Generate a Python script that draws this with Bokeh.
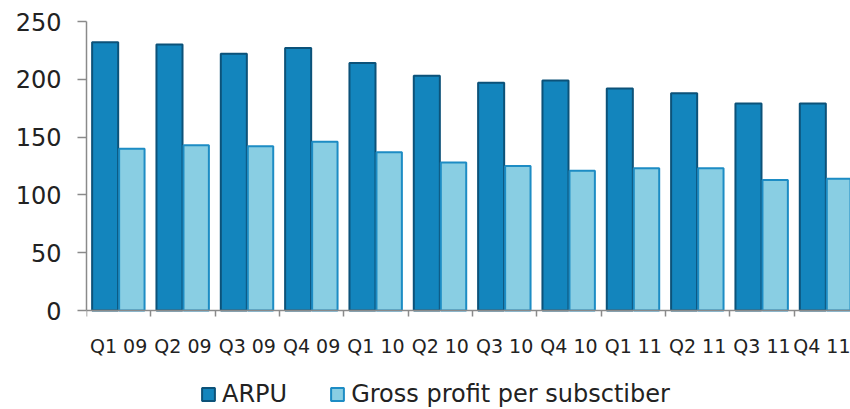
from bokeh.plotting import figure
from bokeh.models import Range1d, FixedTicker, Legend, LegendItem, ColumnDataSource
from bokeh.transform import dodge
from bokeh.embed import file_html
from bokeh.resources import INLINE

quarters = ["Q1 09", "Q2 09", "Q3 09", "Q4 09", "Q1 10", "Q2 10",
            "Q3 10", "Q4 10", "Q1 11", "Q2 11", "Q3 11", "Q4 11"]
arpu = [232, 230, 222, 227, 214, 203, 197, 199, 192, 188, 179, 179]
gross_profit = [140, 143, 142, 146, 137, 128, 125, 121, 123, 123, 113, 114]
y_ticks = [0, 50, 100, 150, 200, 250]

idx = list(range(len(quarters)))
centers = [i + 0.5 for i in idx]
src = ColumnDataSource(dict(pos=centers, arpu=arpu, gp=gross_profit))

FONT = "DejaVu Sans"
AXIS_GREY = "#8a8a8a"

# frame spans the full height; the value axis occupies its upper part
p = figure(width=850, height=409, output_backend="svg", toolbar_location=None,
           x_range=Range1d(0, 11.876), y_range=Range1d(-85.6, 250),
           min_border_left=86, min_border_right=0, min_border_top=21,
           min_border_bottom=0, outline_line_color=None)
p.grid.visible = False

r1 = p.vbar(x=dodge("pos", -0.21, range=p.x_range), top="arpu", width=0.405, source=src,
            fill_color="#1385BD", line_color="#0C5279", line_width=2)
r2 = p.vbar(x=dodge("pos", 0.205, range=p.x_range), top="gp", width=0.395, source=src,
            fill_color="#89CEE3", line_color="#1D8CC4", line_width=2)

# x axis (drawn at y = 0)
xa = p.xaxis[0]
xa.fixed_location = 0
xa.ticker = FixedTicker(ticks=centers, minor_ticks=[float(i) for i in range(13)])
xa.major_label_overrides = {c: q for c, q in zip(centers, quarters)}
xa.major_tick_out = 0
xa.major_tick_in = 0
xa.minor_tick_out = 6
xa.minor_tick_in = 0
xa.minor_tick_line_color = AXIS_GREY
xa.minor_tick_line_width = 1.5
xa.axis_line_color = AXIS_GREY
xa.axis_line_width = 1.5
xa.major_label_standoff = 18
xa.major_label_text_font = FONT
xa.major_label_text_font_size = "19px"
xa.major_label_text_color = "#222222"

# y axis
ya = p.yaxis[0]
ya.bounds = (0, 250)
ya.ticker = FixedTicker(ticks=y_ticks, minor_ticks=[])
ya.major_tick_out = 9
ya.major_tick_in = 0
ya.major_tick_line_color = AXIS_GREY
ya.major_tick_line_width = 1.5
ya.axis_line_color = AXIS_GREY
ya.axis_line_width = 1.5
ya.major_label_standoff = 16
ya.major_label_text_font = FONT
ya.major_label_text_font_size = "24px"
ya.major_label_text_color = "#222222"

legend = Legend(items=[LegendItem(label="ARPU", renderers=[r1]),
                       LegendItem(label="Gross profit per subsctiber", renderers=[r2])],
                orientation="horizontal", location=(114, 1),
                glyph_width=16, glyph_height=16, label_standoff=6, spacing=42,
                padding=0, margin=0, border_line_color=None,
                background_fill_alpha=0,
                label_text_font=FONT, label_text_font_size="24px",
                label_text_color="#222222", label_height=16)
p.add_layout(legend, "center")

open("out.html", "w").write(file_html(p, INLINE))
